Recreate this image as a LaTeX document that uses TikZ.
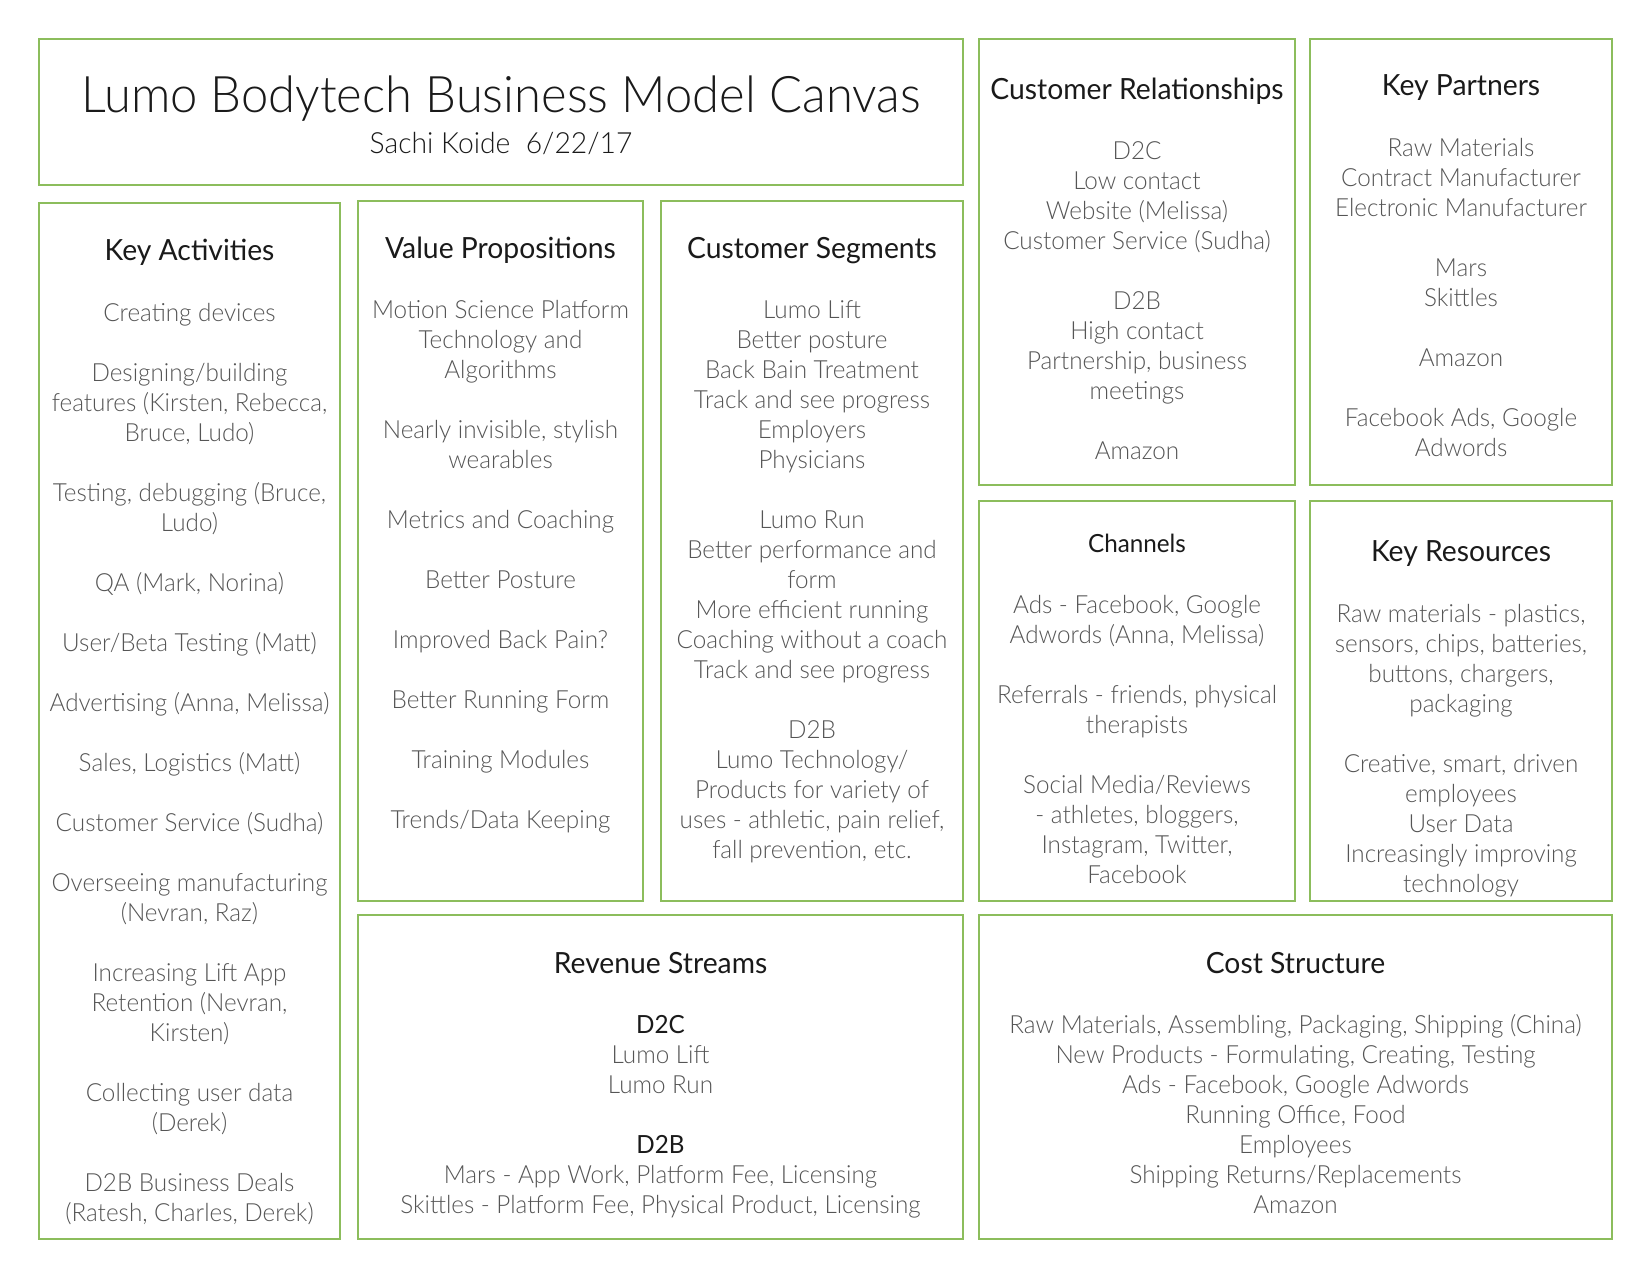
\documentclass[tikz,border=0pt]{standalone}
\usepackage{fontspec}
\setmainfont{Lato}[FakeStretch=0.97]
\newfontfamily\lightfont{Lato Light}[FakeStretch=0.97]
\usepackage{tikz}
\usetikzlibrary{positioning}
\definecolor{cFrame}{HTML}{8CBD5C}
\definecolor{cHead}{HTML}{1A1A1A}
\definecolor{cItem}{HTML}{555555}

\begin{document}
\begin{tikzpicture}[x=0.48pt, y=-0.48pt,
    panel/.style={draw=cFrame, line width=1.4pt},
    head/.style={font=\fontsize{14}{17}\selectfont, text=cHead, inner sep=0pt, anchor=mid},
    body/.style={font=\lightfont\fontsize{12}{14.4}\selectfont, text=cItem, align=center, inner sep=0pt, anchor=north},
    ttl/.style={font=\lightfont\fontsize{24.2}{29}\selectfont, text=cHead, inner sep=0pt, anchor=base}
]
\useasboundingbox[fill=white] (0,0) rectangle (1650,1275);
\def\dy{11}

% frames
\draw[panel] (39,39) rectangle (963,185);
\draw[panel] (39,203) rectangle (340,1239);
\draw[panel] (358,201) rectangle (643,901);
\draw[panel] (661,201) rectangle (963,901);
\draw[panel] (979,39) rectangle (1295,485);
\draw[panel] (1310,39) rectangle (1612,485);
\draw[panel] (979,501) rectangle (1295,901);
\draw[panel] (1310,501) rectangle (1612,901);
\draw[panel] (358,915) rectangle (963,1239);
\draw[panel] (979,915) rectangle (1612,1239);

% title
\node[ttl] (title) at (501,112) {Lumo Bodytech Business Model Canvas};
\node[head, font=\lightfont\fontsize{14}{17}\selectfont] (author) at (501,148) {Sachi Koide\ \ 6/22/17};

% key activities
\node[head] (kaHead) at (189.5,255) {Key Activities};
\node[body] (kaBody) at (189.5,311-\dy) {\strut Creating devices\\[14.4pt]
  Designing/building\\features (Kirsten, Rebecca,\\Bruce, Ludo)\\[14.4pt]
  Testing, debugging (Bruce,\\Ludo)\\[14.4pt]
  QA (Mark, Norina)\\[14.4pt]
  User/Beta Testing (Matt)\\[14.4pt]
  Advertising (Anna, Melissa)\\[14.4pt]
  Sales, Logistics (Matt)\\[14.4pt]
  Customer Service (Sudha)\\[14.4pt]
  Overseeing manufacturing\\(Nevran, Raz)\\[14.4pt]
  Increasing Lift App\\Retention (Nevran,\\Kirsten)\\[14.4pt]
  Collecting user data\\(Derek)\\[14.4pt]
  D2B Business Deals\\(Ratesh, Charles, Derek)};

% value propositions
\node[head] (vpHead) at (500.5,253) {Value Propositions};
\node[body] (vpBody) at (500.5,308-\dy) {\strut Motion Science Platform\\Technology and\\Algorithms\\[14.4pt]
  Nearly invisible, stylish\\wearables\\[14.4pt]
  Metrics and Coaching\\[14.4pt]
  Better Posture\\[14.4pt]
  Improved Back Pain?\\[14.4pt]
  Better Running Form\\[14.4pt]
  Training Modules\\[14.4pt]
  Trends/Data Keeping};

% customer segments
\node[head] (csHead) at (812,253) {Customer Segments};
\node[body] (csBody) at (812,308-\dy) {\strut Lumo Lift\\Better posture\\Back Bain Treatment\\Track and see progress\\Employers\\Physicians\\[14.4pt]
  Lumo Run\\Better performance and\\form\\More efficient running\\Coaching without a coach\\Track and see progress\\[14.4pt]
  D2B\\Lumo Technology/\\Products for variety of\\uses - athletic, pain relief,\\fall prevention, etc.};

% customer relationships
\node[head] (crHead) at (1137,94) {Customer Relationships};
\node[body] (crBody) at (1137,149-\dy) {\strut D2C\\Low contact\\Website (Melissa)\\Customer Service (Sudha)\\[14.4pt]
  D2B\\High contact\\Partnership, business\\meetings\\[14.4pt]
  Amazon};

% key partners
\node[head] (kpHead) at (1461,90) {Key Partners};
\node[body] (kpBody) at (1461,146-\dy) {\strut Raw Materials\\Contract Manufacturer\\Electronic Manufacturer\\[14.4pt]
  Mars\\Skittles\\[14.4pt]
  Amazon\\[14.4pt]
  Facebook Ads, Google\\Adwords};

% channels
\node[head, font=\fontsize{12}{14.4}\selectfont] (chHead) at (1137,547) {Channels};
\node[body] (chBody) at (1137,603-\dy) {\strut Ads - Facebook, Google\\Adwords (Anna, Melissa)\\[14.4pt]
  Referrals - friends, physical\\therapists\\[14.4pt]
  Social Media/Reviews\\- athletes, bloggers,\\Instagram, Twitter,\\Facebook};

% key resources
\node[head] (krHead) at (1461,556) {Key Resources};
\node[body] (krBody) at (1461,612-\dy) {\strut Raw materials - plastics,\\sensors, chips, batteries,\\buttons, chargers,\\packaging\\[14.4pt]
  Creative, smart, driven\\employees\\User Data\\Increasingly improving\\technology};

% revenue streams
\node[head] (rsHead) at (660.5,968) {Revenue Streams};
\node[body] (rsBody) at (660.5,1023-\dy) {\strut{\normalfont\color{cHead}D2C}\\Lumo Lift\\Lumo Run\\[14.4pt]
  {\normalfont\color{cHead}D2B}\\Mars - App Work, Platform Fee, Licensing\\Skittles - Platform Fee, Physical Product, Licensing};

% cost structure
\node[head] (costHead) at (1295.5,968) {Cost Structure};
\node[body] (costBody) at (1295.5,1023-\dy) {\strut Raw Materials, Assembling, Packaging, Shipping (China)\\New Products - Formulating, Creating, Testing\\Ads - Facebook, Google Adwords\\Running Office, Food\\Employees\\Shipping Returns/Replacements\\Amazon};

\end{tikzpicture}
\end{document}
